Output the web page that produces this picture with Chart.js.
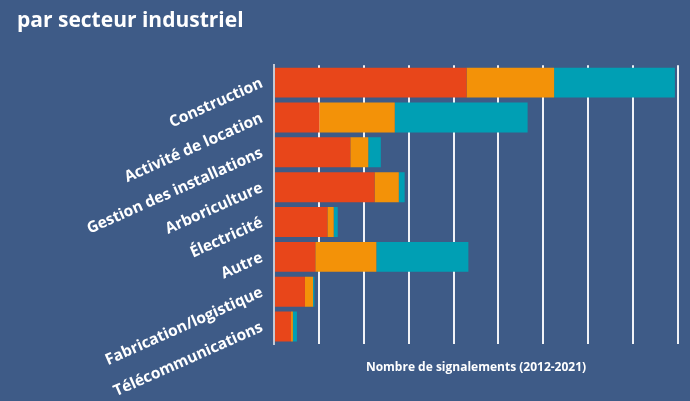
<!DOCTYPE html>
<html>
<head>
<meta charset="utf-8">
<script src="https://cdn.jsdelivr.net/npm/chart.js@4"></script>
<style>
  html, body { margin: 0; padding: 0; background: #3E5B87; }
  #wrap { width: 690px; height: 401px; }
</style>
</head>
<body>
<div id="wrap"><canvas id="chart" width="690" height="401"></canvas></div>
<script>
// ─────────────────────────────────────────
// DATA
// ─────────────────────────────────────────

const sectors = [
  "Construction",
  "Activité de location",
  "Gestion des installations",
  "Arboriculture",
  "Électricité",
  "Autre",
  "Fabrication/logistique",
  "Télécommunications"
];

const seriesNames = ["Série 1", "Série 2", "Série 3"];

const redValues    = [42.9, 10.1, 17.0, 22.4, 11.9,  9.2, 6.9, 3.8];
const orangeValues = [19.5, 16.8,  4.0,  5.4,  1.4, 13.6, 1.8, 0.4];
const tealValues   = [26.9, 29.6,  2.8,  1.3,  0.9, 20.5, 0.3, 0.9];

const colors = ["#E8461A", "#F39208", "#009FB4"];

// ─────────────────────────────────────────
// CHART
// ─────────────────────────────────────────

const font = "'Open Sans', 'Noto Sans', sans-serif";

new Chart(document.getElementById("chart"), {
  type: "bar",
  data: {
    labels: sectors,
    datasets: [redValues, orangeValues, tealValues].map((vals, i) => ({
      label: seriesNames[i],
      data: vals,
      backgroundColor: colors[i],
      borderWidth: 0,
      barPercentage: 0.86,
      categoryPercentage: 1
    }))
  },
  options: {
    indexAxis: "y",
    responsive: false,
    animation: false,
    layout: { padding: { left: 17, right: 12, top: 0, bottom: 0 } },
    plugins: {
      legend: { display: false },
      tooltip: { enabled: false },
      title: {
        display: true,
        text: "par secteur industriel",
        align: "start",
        color: "#ffffff",
        font: { family: font, size: 21, weight: "bold" },
        padding: { top: 8, bottom: 32 }
      }
    },
    scales: {
      x: {
        stacked: true,
        min: 0, max: 90,
        ticks: { display: false, stepSize: 10 },
        grid: { color: "rgba(255,255,255,0.92)", lineWidth: 2, drawTicks: false },
        border: { display: false },
        title: {
          display: true,
          text: "Nombre de signalements (2012-2021)",
          color: "#ffffff",
          font: { family: font, size: 12, weight: "bold" },
          padding: { top: 0, bottom: 26 }
        },
        afterFit: s => { s.height = 57; }
      },
      y: {
        stacked: true,
        grid: { display: false, drawTicks: false },
        border: { display: true, color: "#C3C9D4", width: 2 },
        ticks: {
          color: "#ffffff",
          padding: 12,
          minRotation: 24,
          maxRotation: 24,
          autoSkip: false,
          font: { family: font, size: 15.5, weight: "bold" }
        },
        afterFit: s => { s.width = 257; }
      }
    }
  }
});
</script>
</body>
</html>
